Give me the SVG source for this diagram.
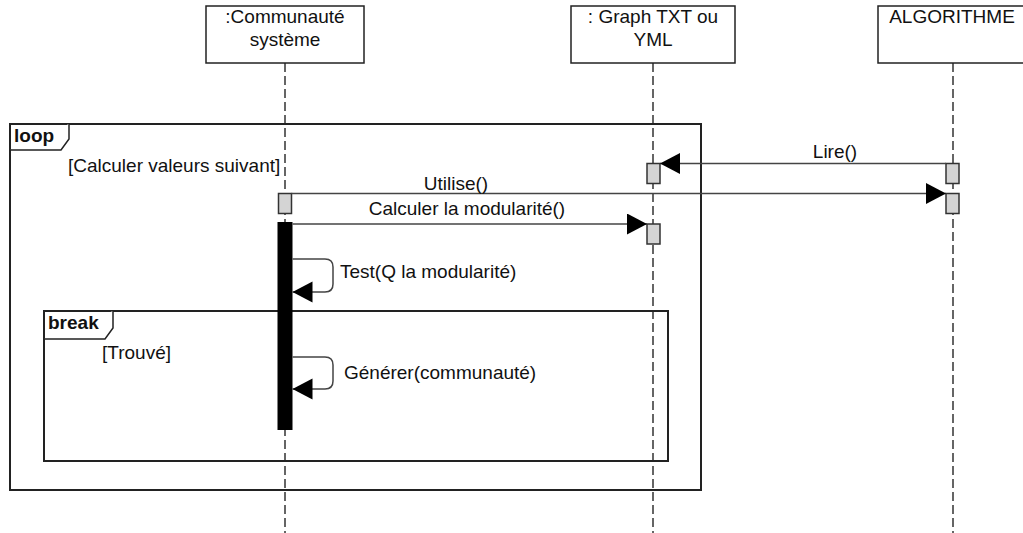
<svg xmlns="http://www.w3.org/2000/svg" width="1023" height="533" viewBox="0 0 1023 533">
<defs>
<style>
.box{fill:#fff;stroke:#222;stroke-width:1.5}
.life{fill:none;stroke:#333;stroke-width:1.5;stroke-dasharray:9 4}
.act{fill:#d4d4d4;stroke:#333;stroke-width:1.5}
.frame{fill:none;stroke:#222;stroke-width:2}
.tab{fill:#fff;stroke:#222;stroke-width:1.5}
.msg{fill:none;stroke:#444;stroke-width:1.5}
text{font-family:"Liberation Sans",Arial,sans-serif;font-size:19px;fill:#111}
.c{text-anchor:middle}
.b{font-weight:bold}
</style>
<marker id="arr" markerUnits="userSpaceOnUse" markerWidth="21" markerHeight="22" refX="20" refY="10.5" orient="auto">
<path d="M0,0 L20,10.5 L0,21 z" fill="#000"/>
</marker>
</defs>
<rect width="1023" height="533" fill="#fff"/>

<g id="lifelines">
<line class="life" x1="285" y1="63" x2="285" y2="533"/>
<line class="life" x1="653" y1="63" x2="653" y2="533"/>
<line class="life" x1="953" y1="63" x2="953" y2="533"/>
</g>

<g id="loop-frame">
<rect class="frame" x="10" y="124" width="691" height="366"/>
<path class="tab" d="M10,150 L61,150 L69,139 L69,124"/>
<text class="b" x="14" y="142">loop</text>
<text x="68" y="172">[Calculer valeurs suivant]</text>
</g>

<g id="break-frame">
<rect class="frame" x="44" y="311" width="624" height="150"/>
<path class="tab" d="M44,339 L105,339 L113,328 L113,311"/>
<text class="b" x="48" y="329">break</text>
<text x="102" y="359">[Trouvé]</text>
</g>

<g id="node-communaute">
<rect class="box" x="206" y="6" width="158" height="57"/>
<text class="c" x="285" y="23">:Communauté</text>
<text class="c" x="285" y="46">système</text>
</g>

<g id="node-graph">
<rect class="box" x="571" y="6" width="164" height="57"/>
<text class="c" x="653" y="23">: Graph TXT ou</text>
<text class="c" x="653" y="46">YML</text>
</g>

<g id="node-algorithme">
<rect class="box" x="878" y="6" width="152" height="57"/>
<text class="c" x="952" y="23">ALGORITHME</text>
</g>

<g id="activations">
<rect class="act" x="278.5" y="193.5" width="13" height="20"/>
<rect x="277.5" y="222" width="15" height="208" fill="#000"/>
<rect class="act" x="647" y="163.5" width="13" height="20"/>
<rect class="act" x="647" y="224" width="13" height="20"/>
<rect class="act" x="946" y="163.5" width="13" height="20"/>
<rect class="act" x="946" y="193.5" width="13" height="20"/>
</g>

<g id="connectors">
<line class="msg" x1="946" y1="163.5" x2="660" y2="163.5" marker-end="url(#arr)"/>
<text class="c" x="835" y="158">Lire()</text>
<line class="msg" x1="291.5" y1="193.5" x2="946" y2="193.5" marker-end="url(#arr)"/>
<text class="c" x="456" y="190">Utilise()</text>
<line class="msg" x1="292.5" y1="224" x2="647" y2="224" marker-end="url(#arr)"/>
<text class="c" x="467" y="215">Calculer la modularité()</text>
<path class="msg" d="M292.5,259 L325,259 Q333,259 333,267 L333,284 Q333,292 325,292 L292.5,292" marker-end="url(#arr)"/>
<text x="340" y="278">Test(Q la modularité)</text>
<path class="msg" d="M292.5,357 L325,357 Q333,357 333,365 L333,381 Q333,389 325,389 L292.5,389" marker-end="url(#arr)"/>
<text x="344" y="379">Générer(communauté)</text>
</g>
</svg>
